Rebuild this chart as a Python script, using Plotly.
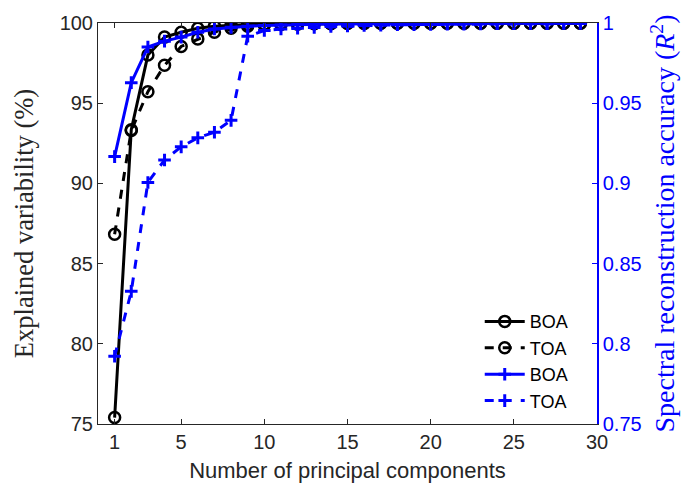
import plotly.graph_objects as go

pcs = list(range(1, 30))
# Explained variability (%)
ev_boa = [75.4, 93.35, 98.0, 99.12, 99.42, 99.67, 99.8, 99.86, 99.9, 99.93,
          99.95, 99.96, 99.97, 99.97, 99.98, 99.98, 99.98, 99.99, 99.99, 99.99,
          99.99, 99.99, 99.99, 99.99, 99.99, 99.99, 99.99, 99.99, 99.99]
ev_toa = [86.83, 93.3, 95.72, 97.36, 98.54, 99.01, 99.43, 99.67, 99.8, 99.87,
          99.91, 99.93, 99.95, 99.96, 99.97, 99.97, 99.98, 99.98, 99.98, 99.99,
          99.99, 99.99, 99.99, 99.99, 99.99, 99.99, 99.99, 99.99, 99.99]
# Spectral reconstruction accuracy (R^2)
r2_boa = [0.9167, 0.9628, 0.985, 0.9887, 0.9912, 0.9942, 0.9963, 0.9973, 0.998, 0.9985,
          0.9988, 0.999, 0.9992, 0.9993, 0.9994, 0.9995, 0.9996, 0.9996, 0.9997, 0.9997,
          0.9997, 0.9998, 0.9998, 0.9998, 0.9998, 0.9998, 0.9999, 0.9999, 0.9999]
r2_toa = [0.7922, 0.8327, 0.9006, 0.9146, 0.9228, 0.9284, 0.9319, 0.9393, 0.9918, 0.9953,
          0.9963, 0.9967, 0.9972, 0.9978, 0.9982, 0.9985, 0.9987, 0.9989, 0.999, 0.9991,
          0.9992, 0.9993, 0.9994, 0.9995, 0.9995, 0.9996, 0.9996, 0.9997, 0.9997]

x_ticks = [1, 5, 10, 15, 20, 25, 30]
y_ticks = [75, 80, 85, 90, 95, 100]
y2_ticks = [0.75, 0.8, 0.85, 0.9, 0.95, 1.0]
y2_ticktext = ["0.75", "0.8", "0.85", "0.9", "0.95", "1"]

BLUE = "#0000ff"
DARK = "#262626"

fig = go.Figure()
fig.add_trace(go.Scatter(x=pcs, y=ev_boa, name="BOA", mode="lines+markers",
                         line=dict(color="black", width=3),
                         marker=dict(symbol="circle-open", size=11, color="black",
                                     line=dict(width=2.5, color="black"))))
fig.add_trace(go.Scatter(x=pcs, y=ev_toa, name="TOA", mode="lines+markers",
                         line=dict(color="black", width=3, dash="dash"),
                         marker=dict(symbol="circle-open", size=11, color="black",
                                     line=dict(width=2.5, color="black"))))
fig.add_trace(go.Scatter(x=pcs, y=r2_boa, name="BOA", mode="lines+markers", yaxis="y2",
                         line=dict(color=BLUE, width=3),
                         marker=dict(symbol="cross-thin-open", size=9, color=BLUE,
                                     line=dict(width=3, color=BLUE))))
fig.add_trace(go.Scatter(x=pcs, y=r2_toa, name="TOA", mode="lines+markers", yaxis="y2",
                         line=dict(color=BLUE, width=3, dash="dash"),
                         marker=dict(symbol="cross-thin-open", size=9, color=BLUE,
                                     line=dict(width=3, color=BLUE))))

tickfont = dict(family="Liberation Sans, Arial, sans-serif", size=20, color=DARK)

fig.update_layout(
    width=687, height=493,
    margin=dict(l=98, r=90, t=19, b=69),
    plot_bgcolor="white", paper_bgcolor="white",
    showlegend=True,
    legend=dict(x=0.765, y=0.012, xanchor="left", yanchor="bottom",
                bgcolor="rgba(0,0,0,0)", borderwidth=0,
                font=dict(family="Liberation Sans, Arial, sans-serif", size=18, color="black"),
                tracegroupgap=0, itemwidth=40),
    xaxis=dict(range=[0, 30], tickvals=x_ticks, ticks="inside", ticklen=5,
               tickcolor=DARK, showline=True, linecolor=DARK, linewidth=1,
               mirror="ticks", showgrid=False, zeroline=False, tickfont=tickfont,
               title=dict(text="Number of principal components",
                          font=dict(family="Liberation Sans, Arial, sans-serif", size=22, color=DARK),
                          standoff=10)),
    yaxis=dict(range=[75, 100], tickvals=y_ticks, ticks="inside", ticklen=5,
               tickcolor=DARK, showline=True, linecolor=DARK, linewidth=1,
               showgrid=False, zeroline=False, tickfont=tickfont,
               title=dict(text="Explained variability (%)",
                          font=dict(family="Liberation Serif, Times New Roman, serif", size=26.5, color=DARK),
                          standoff=18)),
    yaxis2=dict(range=[0.75, 1.0], tickvals=y2_ticks, ticktext=y2_ticktext,
                overlaying="y", side="right", ticks="inside", ticklen=5,
                tickcolor=BLUE, showline=True, linecolor=BLUE, linewidth=1.5,
                showgrid=False, zeroline=False,
                tickfont=dict(family="Liberation Sans, Arial, sans-serif", size=20, color=BLUE),
                title=dict(text="Spectral reconstruction accuracy (<i>R</i><sup>2</sup>)",
                           font=dict(family="Liberation Serif, Times New Roman, serif", size=28, color=BLUE),
                           standoff=14)),
)

fig.write_html("out.html")
